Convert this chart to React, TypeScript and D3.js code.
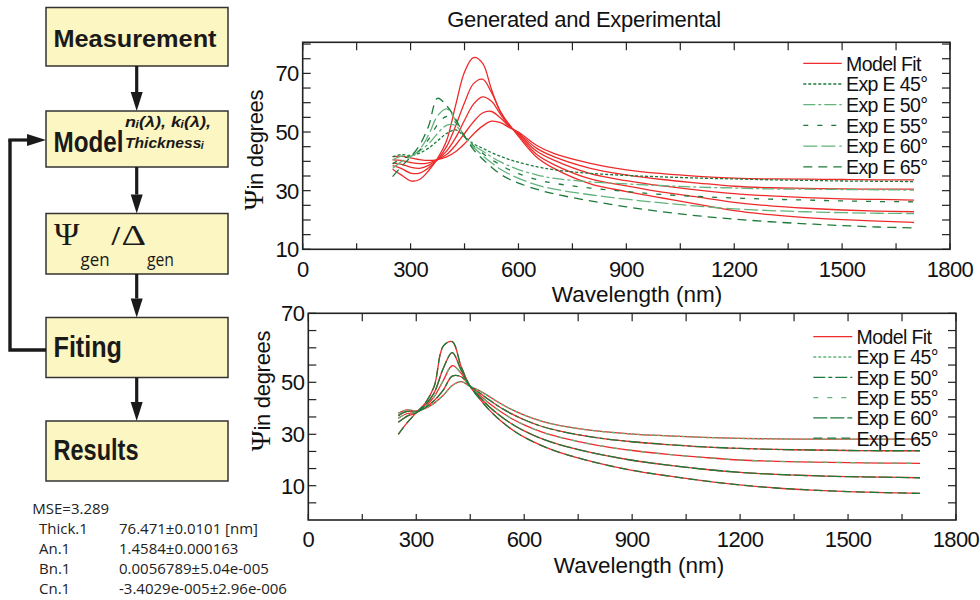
import React from "react";
import * as d3 from "d3";

// ---------------- DATA ----------------
const wavelengths = [250, 275, 300, 325, 350, 375, 400, 425, 450, 475, 500, 525, 550, 575, 600, 650, 700, 800, 900, 1000, 1100, 1200, 1300, 1400, 1500, 1600, 1700];

const angles = ["45°", "50°", "55°", "60°", "65°"];

// Top chart: generated (model fit, before fitting)
const topModel45 = [41.6, 41.7, 41.2, 40.6, 40.3, 40.6, 41.5, 43.3, 46.0, 49.3, 52.0, 53.7, 53.2, 51.5, 50.0, 45.5, 42.6, 39.3, 37.1, 35.8, 34.9, 34.3, 34.0, 33.9, 33.8, 33.7, 33.7];
const topModel50 = [40.5, 40.3, 39.6, 39.2, 39.5, 40.6, 42.3, 45.5, 49.5, 53.5, 56.5, 57.0, 54.8, 51.8, 49.7, 44.5, 41.5, 37.6, 35.4, 33.8, 32.6, 31.5, 31.0, 30.8, 30.6, 30.5, 30.5];
const topModel55 = [39.5, 39.0, 38.0, 37.6, 38.6, 40.6, 43.5, 48.0, 54.0, 59.5, 62.0, 60.5, 56.0, 52.0, 49.4, 43.5, 40.3, 35.8, 33.4, 31.6, 30.2, 29.0, 28.2, 27.6, 27.2, 27.0, 26.8];
const topModel60 = [38.5, 37.5, 36.0, 36.0, 37.8, 40.6, 45.0, 52.0, 60.0, 66.5, 68.0, 63.5, 57.0, 52.3, 49.0, 42.4, 38.8, 34.0, 31.6, 29.5, 27.8, 26.0, 24.8, 24.0, 23.4, 23.0, 22.8];
const topModel65 = [37.3, 35.3, 33.3, 33.8, 36.8, 41.0, 47.0, 59.0, 70.5, 75.4, 73.5, 64.5, 56.8, 52.5, 48.5, 41.5, 37.5, 32.3, 29.7, 27.5, 25.3, 23.2, 21.8, 20.8, 20.1, 19.6, 19.2];

// Top chart: experimental
const topExp45 = [41.6, 42.3, 42.0, 42.8, 44.5, 47.0, 49.5, 50.7, 48.4, 46.0, 44.5, 43.0, 41.7, 40.6, 39.7, 38.2, 37.1, 35.9, 35.2, 34.7, 34.3, 34.0, 33.7, 33.5, 33.3, 33.2, 33.1];
const topExp50 = [40.5, 41.8, 41.8, 43.5, 46.0, 49.5, 52.3, 52.2, 48.4, 45.5, 43.5, 41.5, 39.8, 38.4, 37.2, 35.4, 34.2, 33.0, 32.3, 31.7, 31.2, 30.9, 30.6, 30.5, 30.4, 30.3, 30.2];
const topExp55 = [39.1, 41.0, 41.7, 43.8, 47.5, 52.5, 55.3, 53.3, 48.5, 45.2, 42.8, 40.6, 38.8, 37.1, 35.8, 33.8, 32.5, 30.9, 29.7, 28.7, 28.0, 27.5, 27.1, 26.8, 26.5, 26.3, 26.2];
const topExp60 = [37.6, 40.0, 41.6, 44.0, 49.0, 55.5, 57.9, 54.0, 48.5, 44.8, 42.0, 39.5, 37.3, 35.6, 34.2, 32.0, 30.5, 28.6, 27.1, 25.8, 24.7, 23.8, 23.2, 22.8, 22.5, 22.3, 22.2];
const topExp65 = [34.8, 38.3, 41.5, 45.5, 52.0, 61.5, 59.0, 54.5, 48.6, 44.0, 40.8, 38.0, 35.6, 33.9, 32.6, 30.5, 28.9, 26.5, 24.5, 22.8, 21.4, 20.3, 19.4, 18.7, 18.1, 17.6, 17.3];

// Bottom chart: model fit after fitting
const bottomModel45 = [38.1, 39.4, 39.0, 40.0, 42.0, 45.0, 48.8, 50.2, 48.4, 46.8, 44.8, 42.6, 40.6, 38.9, 37.4, 35.0, 33.3, 31.3, 30.1, 29.4, 28.8, 28.4, 28.2, 28.1, 28.1, 28.1, 28.1];
const bottomModel50 = [37.2, 38.8, 38.6, 40.3, 43.0, 47.0, 51.8, 51.6, 48.4, 46.0, 43.5, 41.1, 39.0, 37.2, 35.6, 33.0, 31.2, 28.7, 27.1, 26.0, 25.1, 24.5, 24.1, 23.9, 23.7, 23.6, 23.6];
const bottomModel55 = [36.2, 38.0, 38.4, 40.8, 44.5, 50.5, 54.8, 52.6, 48.4, 45.2, 42.2, 39.6, 37.3, 35.3, 33.6, 30.8, 28.8, 25.8, 23.7, 22.2, 21.0, 20.0, 19.5, 19.2, 19.0, 18.8, 18.7];
const bottomModel60 = [34.6, 37.0, 38.3, 41.3, 46.0, 54.0, 58.6, 53.5, 48.4, 44.5, 41.0, 38.0, 35.4, 33.2, 31.3, 28.2, 25.9, 22.5, 19.9, 18.0, 16.4, 15.2, 14.4, 13.9, 13.5, 13.3, 13.1];
const bottomModel65 = [30.0, 34.5, 38.3, 42.0, 48.5, 60.5, 61.8, 54.5, 48.4, 43.8, 39.8, 36.4, 33.5, 31.0, 28.9, 25.5, 22.9, 19.0, 16.0, 13.8, 11.9, 10.3, 9.1, 8.3, 7.7, 7.3, 7.0];

// Bottom chart: experimental (coincides with the fit)
const bottomExp45 = [38.1, 39.4, 39.0, 40.0, 42.0, 45.0, 48.8, 50.2, 48.4, 46.8, 44.8, 42.6, 40.6, 38.9, 37.4, 35.0, 33.3, 31.3, 30.1, 29.4, 28.8, 28.4, 28.2, 28.1, 28.1, 28.1, 28.1];
const bottomExp50 = [37.2, 38.8, 38.6, 40.3, 43.0, 47.0, 51.8, 51.6, 48.4, 46.0, 43.5, 41.1, 39.0, 37.2, 35.6, 33.0, 31.2, 28.7, 27.1, 26.0, 25.1, 24.5, 24.1, 23.9, 23.7, 23.6, 23.6];
const bottomExp55 = [36.2, 38.0, 38.4, 40.8, 44.5, 50.5, 54.8, 52.6, 48.4, 45.2, 42.2, 39.6, 37.3, 35.3, 33.6, 30.8, 28.8, 25.8, 23.7, 22.2, 21.0, 20.0, 19.5, 19.2, 19.0, 18.8, 18.7];
const bottomExp60 = [34.6, 37.0, 38.3, 41.3, 46.0, 54.0, 58.6, 53.5, 48.4, 44.5, 41.0, 38.0, 35.4, 33.2, 31.3, 28.2, 25.9, 22.5, 19.9, 18.0, 16.4, 15.2, 14.4, 13.9, 13.5, 13.3, 13.1];
const bottomExp65 = [30.0, 34.5, 38.3, 42.0, 48.5, 60.5, 61.8, 54.5, 48.4, 43.8, 39.8, 36.4, 33.5, 31.0, 28.9, 25.5, 22.9, 19.0, 16.0, 13.8, 11.9, 10.3, 9.1, 8.3, 7.7, 7.3, 7.0];

const xTickLabels = [0, 300, 600, 900, 1200, 1500, 1800];
const xMinorTicks = [0, 150, 300, 450, 600, 750, 900, 1050, 1200, 1350, 1500, 1650, 1800];
const topYTickLabels = [10, 30, 50, 70];
const topYMinorTicks = [10, 15, 20, 25, 30, 35, 40, 45, 50, 55, 60, 65, 70, 75, 80];
const bottomYTickLabels = [10, 30, 50, 70];
const bottomYMinorTicks = [3.33, 10, 16.67, 23.33, 30, 36.67, 43.33, 50, 55, 60, 65, 70];

const flowSteps = ["Measurement", "Model", "Ψgen/Δgen", "Fiting", "Results"];
const modelParams = ["nᵢ(λ), kᵢ(λ),", "Thicknessᵢ"];
const fitNames = ["Thick.1", "An.1", "Bn.1", "Cn.1"];
const fitValues = ["76.471±0.0101 [nm]", "1.4584±0.000163", "0.0056789±5.04e-005", "-3.4029e-005±2.96e-006"];
const mseText = "MSE=3.289";

// ---------------- STYLE ----------------
const RED = "#ee2b2b";
const DARK = "#1c7a3a";
const LIGHT = "#62b37c";
const SANS = "'Liberation Sans', Arial, Helvetica, sans-serif";
const SERIF = "'Liberation Serif', 'Times New Roman', serif";
const NARROW = "'Liberation Sans Narrow', 'Arial Narrow', 'Liberation Sans', Arial, 'DejaVu Sans', sans-serif";
const OPEN = "'Open Sans', 'Noto Sans', sans-serif";

type Series = { values: number[]; color: string; dash?: string };
type LegendItem = { label: string; color: string; dash?: string };

interface ChartProps {
  left: number; right: number; top: number; bottom: number;
  yScale: d3.ScaleLinear<number, number>;
  yMinor: number[]; yLabels: number[];
  series: Series[];
  legend: LegendItem[];
  legX0: number; legX1: number; legTextX: number; legY: number; legStep: number;
  yTitleX: number; yTitleY: number;
  xTitleX: number; xTitleY: number;
  tickLabelY: number;
}

function Chart(p: ChartProps) {
  const x = d3.scaleLinear().domain([0, 1800]).range([p.left, p.right]);
  const y = p.yScale;
  const line = d3
    .line<number>()
    .x((_, i) => x(wavelengths[i]))
    .y((d) => y(d))
    .curve(d3.curveCatmullRom.alpha(0.5));
  const tl = 8;
  return (
    <g>
      {p.series.map((s, i) => (
        <path key={i} d={line(s.values) || ""} fill="none" stroke={s.color} strokeWidth={1.3} strokeDasharray={s.dash} />
      ))}
      <rect x={p.left} y={p.top} width={p.right - p.left} height={p.bottom - p.top} fill="none" stroke="#222" strokeWidth={1.6} />
      {xMinorTicks.map((t) => (
        <g key={"x" + t}>
          <line x1={x(t)} x2={x(t)} y1={p.bottom} y2={p.bottom - 6} stroke="#222" strokeWidth={1.2} />
          <line x1={x(t)} x2={x(t)} y1={p.top} y2={p.top + tl} stroke="#222" strokeWidth={1.2} />
        </g>
      ))}
      {p.yMinor.map((t) => (
        <g key={"y" + t}>
          <line x1={p.left} x2={p.left + tl} y1={y(t)} y2={y(t)} stroke="#222" strokeWidth={1.2} />
          <line x1={p.right} x2={p.right - tl} y1={y(t)} y2={y(t)} stroke="#222" strokeWidth={1.2} />
        </g>
      ))}
      {xTickLabels.map((t) => (
        <text key={"xl" + t} x={x(t)} y={p.tickLabelY} textAnchor="middle" fontSize={22} letterSpacing={-0.6} fontFamily={SANS} fill="#111">
          {t}
        </text>
      ))}
      {p.yLabels.map((t) => (
        <text key={"yl" + t} x={p.left - 4} y={y(t) + 8} textAnchor="end" fontSize={22} letterSpacing={-0.6} fontFamily={SANS} fill="#111">
          {t}
        </text>
      ))}
      <text transform={`translate(${p.yTitleX},${p.yTitleY}) rotate(-90)`} textAnchor="middle" fill="#111" fontFamily={SANS}>
        <tspan fontFamily={SERIF} fontSize={28}>Ψ</tspan>
        <tspan fontSize={22} letterSpacing={-0.3}>in degrees</tspan>
      </text>
      <text x={p.xTitleX} y={p.xTitleY} textAnchor="middle" fontSize={22.5} fontFamily={SANS} fill="#111">
        Wavelength (nm)
      </text>
      {p.legend.map((l, i) => {
        const ly = p.legY + i * p.legStep;
        return (
          <g key={"lg" + i}>
            <line x1={p.legX0} x2={p.legX1} y1={ly} y2={ly} stroke={l.color} strokeWidth={1.3} strokeDasharray={l.dash} />
            <text x={p.legTextX} y={ly + 7.3} fontSize={19.5} letterSpacing={-0.6} fontFamily={SANS} fill="#111">
              {l.label}
            </text>
          </g>
        );
      })}
    </g>
  );
}

function Arrow({ x1, y1, x2, y2 }: { x1: number; y1: number; x2: number; y2: number }) {
  const ang = Math.atan2(y2 - y1, x2 - x1);
  const hl = 19, hw = 6;
  const bx = x2 - hl * Math.cos(ang), by = y2 - hl * Math.sin(ang);
  const px = -Math.sin(ang) * hw, py = Math.cos(ang) * hw;
  return (
    <g>
      <line x1={x1} y1={y1} x2={bx} y2={by} stroke="#1a1a1a" strokeWidth={3.2} />
      <path d={`M${x2},${y2}L${bx + px},${by + py}L${bx - px},${by - py}Z`} fill="#1a1a1a" />
    </g>
  );
}

function Flowchart() {
  const bx = 46, bw = 182;
  const boxes = [
    { top: 7.5, h: 58.5 },
    { top: 111, h: 56 },
    { top: 213.5, h: 60.5 },
    { top: 317.5, h: 60 },
    { top: 421, h: 60 },
  ];
  const cx = 136.7;
  const fill = "#fcf6c2";
  const bold = { fontFamily: NARROW, fontWeight: 700 as const, fill: "#1a1a1a" };
  const ital = { ...bold, fontStyle: "italic" as const };
  return (
    <g>
      {boxes.map((b, i) => (
        <rect key={i} x={bx} y={b.top} width={bw} height={b.h} fill={fill} stroke="#333" strokeWidth={1.5} />
      ))}
      {boxes.slice(0, -1).map((b, i) => (
        <Arrow key={i} x1={cx} y1={b.top + b.h} x2={cx} y2={boxes[i + 1].top} />
      ))}
      {/* feedback loop */}
      <polyline points={`${bx},350 10,350 10,140`} fill="none" stroke="#1a1a1a" strokeWidth={3.4} strokeLinejoin="miter" />
      <Arrow x1={8.3} y1={140} x2={bx} y2={140} />

      <text x={53.5} y={47} fontSize={23} textLength={163} lengthAdjust="spacingAndGlyphs" {...bold}>
        {flowSteps[0]}
      </text>
      <g transform="translate(53.5,151.7) scale(1,1.22)">
        <text x={0} y={0} fontSize={24.5} textLength={70} lengthAdjust="spacingAndGlyphs" {...bold}>
          {flowSteps[1]}
        </text>
      </g>
      <text x={125} y={127} fontSize={15} textLength={86} lengthAdjust="spacingAndGlyphs" {...ital}>
        {modelParams[0]}
      </text>
      <text x={125} y={147.5} fontSize={14.5} textLength={79} lengthAdjust="spacingAndGlyphs" {...ital}>
        {modelParams[1]}
      </text>

      {/* Psi_gen / Delta_gen */}
      <text x={54} y={245} fontSize={31} fontFamily={SERIF} fill="#1a1a1a" textLength={25.5} lengthAdjust="spacingAndGlyphs">Ψ</text>
      <text x={80.5} y={266} fontSize={19} fontFamily={OPEN} fill="#1a1a1a" textLength={29} lengthAdjust="spacingAndGlyphs">gen</text>
      <text x={111} y={245} fontSize={26} fontFamily={OPEN} fill="#1a1a1a">/</text>
      <text x={121.5} y={245} fontSize={30} fontFamily={SERIF} fill="#1a1a1a" textLength={24.5} lengthAdjust="spacingAndGlyphs">Δ</text>
      <text x={147} y={266} fontSize={19} fontFamily={OPEN} fill="#1a1a1a" textLength={27} lengthAdjust="spacingAndGlyphs">gen</text>

      <text x={53.5} y={356.7} fontSize={30} textLength={68.5} lengthAdjust="spacingAndGlyphs" {...bold}>
        {flowSteps[3]}
      </text>
      <text x={53.5} y={460} fontSize={30} textLength={85} lengthAdjust="spacingAndGlyphs" {...bold}>
        {flowSteps[4]}
      </text>
    </g>
  );
}

function FitResults() {
  return (
    <g fontFamily={OPEN} fontSize={15} fill="#222">
      <text x={32.3} y={514}>{mseText}</text>
      {fitNames.map((n, i) => (
        <g key={n}>
          <text x={39} y={534.3 + i * 20}>{n}</text>
          <text x={119} y={534.3 + i * 20}>{fitValues[i]}</text>
        </g>
      ))}
    </g>
  );
}

export default function App() {
  const topY = d3.scaleLinear().domain([10, 80.6]).range([249.3, 42.3]);
  const botY = d3.scaleLinear().domain([10, 30, 50, 70]).range([485.7, 434.3, 382.3, 313.3]);

  const topStyles = [
    { color: DARK, dash: "3,2" },
    { color: LIGHT, dash: "12,3,3,3" },
    { color: DARK, dash: "5,9" },
    { color: LIGHT, dash: "14,4" },
    { color: DARK, dash: "9,6" },
  ];
  const botStyles = [
    { color: LIGHT, dash: "3,2" },
    { color: DARK, dash: "12,3,4,3" },
    { color: LIGHT, dash: "5,9" },
    { color: DARK, dash: "14,3" },
    { color: DARK, dash: "9,5" },
  ];

  const topModels = [topModel45, topModel50, topModel55, topModel60, topModel65];
  const topExps = [topExp45, topExp50, topExp55, topExp60, topExp65];
  const botModels = [bottomModel45, bottomModel50, bottomModel55, bottomModel60, bottomModel65];
  const botExps = [bottomExp45, bottomExp50, bottomExp55, bottomExp60, bottomExp65];

  const topSeries: Series[] = [
    ...topModels.map((v) => ({ values: v, color: RED })),
    ...topExps.map((v, i) => ({ values: v, ...topStyles[i] })),
  ];
  const botSeries: Series[] = [
    ...botModels.map((v) => ({ values: v, color: RED })),
    ...botExps.map((v, i) => ({ values: v, ...botStyles[i] })),
  ];
  const topLegend: LegendItem[] = [
    { label: "Model Fit", color: RED },
    ...angles.map((a, i) => ({ label: `Exp E ${a}`, ...topStyles[i] })),
  ];
  const botLegend: LegendItem[] = [
    { label: "Model Fit", color: RED },
    ...angles.map((a, i) => ({ label: `Exp E ${a}`, ...botStyles[i] })),
  ];

  return (
    <svg width={980} height={600} style={{ position: "absolute", left: 0, top: 0, background: "#fff" }}>
      <rect x={0} y={0} width={980} height={600} fill="#fff" />
      <Flowchart />
      <FitResults />
      <text x={584} y={27} textAnchor="middle" fontSize={22} letterSpacing={-0.3} fontFamily={SANS} fill="#111">
        Generated and Experimental
      </text>
      <Chart
        left={302.7} right={950} top={42.3} bottom={249.3}
        yScale={topY} yMinor={topYMinorTicks} yLabels={topYTickLabels}
        series={topSeries} legend={topLegend}
        legX0={803.3} legX1={841.7} legTextX={846} legY={63.3} legStep={20.7}
        yTitleX={263} yTitleY={150}
        xTitleX={637} xTitleY={302}
        tickLabelY={277}
      />
      <Chart
        left={308.3} right={956} top={313.3} bottom={520}
        yScale={botY} yMinor={bottomYMinorTicks} yLabels={bottomYTickLabels}
        series={botSeries} legend={botLegend}
        legX0={813.3} legX1={852.3} legTextX={856.5} legY={336.7} legStep={20.3}
        yTitleX={270} yTitleY={391}
        xTitleX={639} xTitleY={573}
        tickLabelY={547}
      />
    </svg>
  );
}
